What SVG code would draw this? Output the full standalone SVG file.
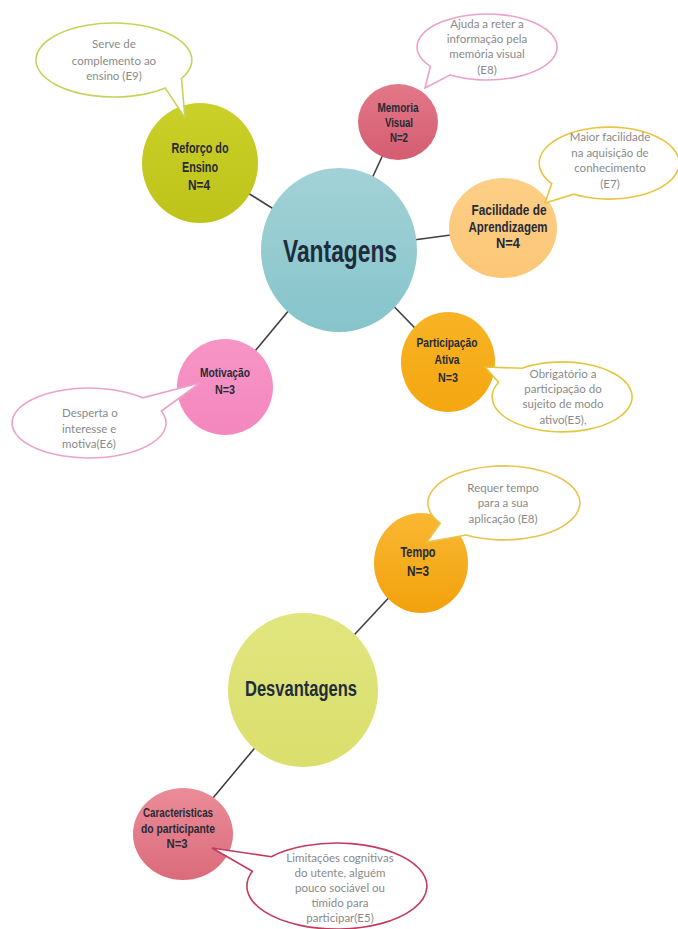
<svg xmlns="http://www.w3.org/2000/svg" width="678" height="929" viewBox="0 0 678 929">
<defs>
<linearGradient id="gV" x1="0" y1="0" x2="0" y2="1"><stop offset="0" stop-color="#a2d2d7"/><stop offset="1" stop-color="#86c4cb"/></linearGradient>
<linearGradient id="gR" x1="0" y1="0" x2="0" y2="1"><stop offset="0" stop-color="#cbd028"/><stop offset="1" stop-color="#bec31a"/></linearGradient>
<linearGradient id="gM" x1="0" y1="0" x2="0" y2="1"><stop offset="0" stop-color="#e27888"/><stop offset="1" stop-color="#d45d70"/></linearGradient>
<linearGradient id="gF" x1="0" y1="0" x2="0" y2="1"><stop offset="0" stop-color="#fdcf86"/><stop offset="1" stop-color="#fcc676"/></linearGradient>
<linearGradient id="gP" x1="0" y1="0" x2="0" y2="1"><stop offset="0" stop-color="#f8b325"/><stop offset="1" stop-color="#f4a710"/></linearGradient>
<linearGradient id="gMo" x1="0" y1="0" x2="0" y2="1"><stop offset="0" stop-color="#f795c6"/><stop offset="1" stop-color="#f487be"/></linearGradient>
<linearGradient id="gT" x1="0" y1="0" x2="0" y2="1"><stop offset="0" stop-color="#f9b833"/><stop offset="1" stop-color="#f2a10c"/></linearGradient>
<linearGradient id="gD" x1="0" y1="0" x2="0" y2="1"><stop offset="0" stop-color="#e1e57e"/><stop offset="1" stop-color="#dadf6c"/></linearGradient>
<linearGradient id="gC" x1="0" y1="0" x2="0" y2="1"><stop offset="0" stop-color="#ea8c97"/><stop offset="1" stop-color="#db6b7b"/></linearGradient>
</defs>
<style>
.con line{stroke:#3f3f45;stroke-width:1.6}
.lbl{font-family:"Liberation Sans",Arial,sans-serif;font-weight:bold;fill:#262a36;text-anchor:middle}
.big{font-family:"Liberation Sans",Arial,sans-serif;font-weight:bold;fill:#1e2d3d;text-anchor:middle}
.co{fill:#ffffff;stroke-width:1.6}
.ct{font-family:Lato,"Open Sans",sans-serif;font-size:11.5px;fill:#8a8a8a;text-anchor:middle}
</style>
<rect width="678" height="929" fill="#ffffff"/>
<g id="connectors" class="con">
<line x1="339" y1="250" x2="200" y2="163"/>
<line x1="339" y1="250" x2="398" y2="122"/>
<line x1="339" y1="250" x2="503" y2="228"/>
<line x1="339" y1="250" x2="448" y2="362"/>
<line x1="339" y1="250" x2="225" y2="387"/>
<line x1="303" y1="690" x2="421" y2="563"/>
<line x1="303" y1="690" x2="183" y2="834"/>
</g>
<g id="vantagens">
<ellipse cx="339" cy="250" rx="78" ry="82" fill="url(#gV)"/>
<text class="big" x="340" y="262" font-size="31" textLength="114" lengthAdjust="spacingAndGlyphs">Vantagens</text>
</g>
<g id="reforco">
<ellipse cx="200" cy="163" rx="58" ry="60" fill="url(#gR)"/>
<text class="lbl" font-size="14"><tspan x="200" y="153" textLength="57" lengthAdjust="spacingAndGlyphs">Reforço do</tspan><tspan x="200" y="172" textLength="36" lengthAdjust="spacingAndGlyphs">Ensino</tspan><tspan x="199" y="190" textLength="22" lengthAdjust="spacingAndGlyphs">N=4</tspan></text>
</g>
<g id="memoria">
<ellipse cx="398" cy="122" rx="40" ry="38" fill="url(#gM)"/>
<text class="lbl" font-size="12.5"><tspan x="398" y="112" textLength="41" lengthAdjust="spacingAndGlyphs">Memoria</tspan><tspan x="399" y="127" textLength="28" lengthAdjust="spacingAndGlyphs">Visual</tspan><tspan x="399" y="142" textLength="18" lengthAdjust="spacingAndGlyphs">N=2</tspan></text>
</g>
<g id="facilidade">
<ellipse cx="503" cy="228" rx="54" ry="50" fill="url(#gF)"/>
<text class="lbl" font-size="14"><tspan x="509" y="215" textLength="75" lengthAdjust="spacingAndGlyphs">Facilidade de</tspan><tspan x="508" y="232" textLength="79" lengthAdjust="spacingAndGlyphs">Aprendizagem</tspan><tspan x="508" y="248" textLength="24" lengthAdjust="spacingAndGlyphs">N=4</tspan></text>
</g>
<g id="participacao">
<ellipse cx="448" cy="362" rx="47" ry="50" fill="url(#gP)"/>
<text class="lbl" font-size="13.5"><tspan x="447" y="347" textLength="61" lengthAdjust="spacingAndGlyphs">Participação</tspan><tspan x="447" y="364" textLength="25" lengthAdjust="spacingAndGlyphs">Ativa</tspan><tspan x="448" y="382" textLength="20" lengthAdjust="spacingAndGlyphs">N=3</tspan></text>
</g>
<g id="motivacao">
<ellipse cx="225" cy="387" rx="48" ry="48" fill="url(#gMo)"/>
<text class="lbl" font-size="13.5"><tspan x="225" y="377" textLength="50" lengthAdjust="spacingAndGlyphs">Motivação</tspan><tspan x="225" y="394" textLength="20" lengthAdjust="spacingAndGlyphs">N=3</tspan></text>
</g>
<g id="tempo">
<ellipse cx="421" cy="563" rx="47" ry="50" fill="url(#gT)"/>
<text class="lbl" font-size="14"><tspan x="418" y="557" textLength="35" lengthAdjust="spacingAndGlyphs">Tempo</tspan><tspan x="418" y="576" textLength="22" lengthAdjust="spacingAndGlyphs">N=3</tspan></text>
</g>
<g id="desvantagens">
<ellipse cx="303" cy="690" rx="75" ry="77" fill="url(#gD)"/>
<text class="big" x="301" y="696" font-size="22.5" textLength="112" lengthAdjust="spacingAndGlyphs">Desvantagens</text>
</g>
<g id="caracteristicas">
<ellipse cx="183" cy="834" rx="50" ry="46" fill="url(#gC)"/>
<text class="lbl" font-size="12.5"><tspan x="178" y="817" textLength="70" lengthAdjust="spacingAndGlyphs">Caracteristicas</tspan><tspan x="178" y="833" textLength="74" lengthAdjust="spacingAndGlyphs">do participante</tspan><tspan x="177" y="848" textLength="21" lengthAdjust="spacingAndGlyphs">N=3</tspan></text>
</g>
<g id="callout-reforco">
<path class="co" stroke="#c8d25a" d="M 181.5 78.5 A 78 37 0 1 0 165.2 87.9 L 185 118 Z"/>
<text class="ct"><tspan x="114" y="48">Serve de</tspan><tspan x="114" y="65">complemento ao</tspan><tspan x="114" y="80">ensino (E9)</tspan></text>
</g>
<g id="callout-memoria">
<path class="co" stroke="#eaa2c9" d="M 449.9 75 A 70 33 0 1 0 430.4 66.4 L 425 88 Z"/>
<text class="ct"><tspan x="487" y="28">Ajuda a reter a</tspan><tspan x="487" y="43">informação pela</tspan><tspan x="487" y="58">memória visual</tspan><tspan x="487" y="74">(E8)</tspan></text>
</g>
<g id="callout-facilidade">
<path class="co" stroke="#e8c440" d="M 574 194.2 A 70 36 0 1 0 551.7 183.6 L 545 203 Z"/>
<text class="ct"><tspan x="610" y="141">Maior facilidade</tspan><tspan x="610" y="157">na aquisição de</tspan><tspan x="610" y="172">conhecimento</tspan><tspan x="610" y="188">(E7)</tspan></text>
</g>
<g id="callout-participacao">
<path class="co" stroke="#e3c640" d="M 521.8 368.3 A 70 35 0 1 1 498.6 382.2 L 485 367 Z"/>
<text class="ct"><tspan x="563" y="378">Obrigatório a</tspan><tspan x="563" y="393">participação do</tspan><tspan x="563" y="408">sujeito de modo</tspan><tspan x="563" y="424">ativo(E5),</tspan></text>
</g>
<g id="callout-motivacao">
<path class="co" stroke="#eaa2c9" d="M 142.5 397.8 A 77 35 0 1 0 161.4 411 L 200 383 Z"/>
<text class="ct" style="text-anchor:start"><tspan x="62" y="417">Desperta o</tspan><tspan x="62" y="433">interesse e</tspan><tspan x="62" y="448">motiva(E6)</tspan></text>
</g>
<g id="callout-tempo">
<path class="co" stroke="#e8c450" d="M 466 535 A 76 37 0 1 0 440.3 523.2 L 427 542 Z"/>
<text class="ct"><tspan x="503" y="492">Requer tempo</tspan><tspan x="503" y="507">para a sua</tspan><tspan x="503" y="523">aplicação (E8)</tspan></text>
</g>
<g id="callout-caracteristicas">
<path class="co" stroke="#c33a5c" d="M 271.2 856.7 A 90 43 0 1 1 252.4 871.3 L 212 848 Z"/>
<text class="ct"><tspan x="340" y="862">Limitações cognitivas</tspan><tspan x="340" y="877">do utente, alguém</tspan><tspan x="340" y="892">pouco sociável ou</tspan><tspan x="340" y="907">tímido para</tspan><tspan x="340" y="922">participar(E5)</tspan></text>
</g>
</svg>
